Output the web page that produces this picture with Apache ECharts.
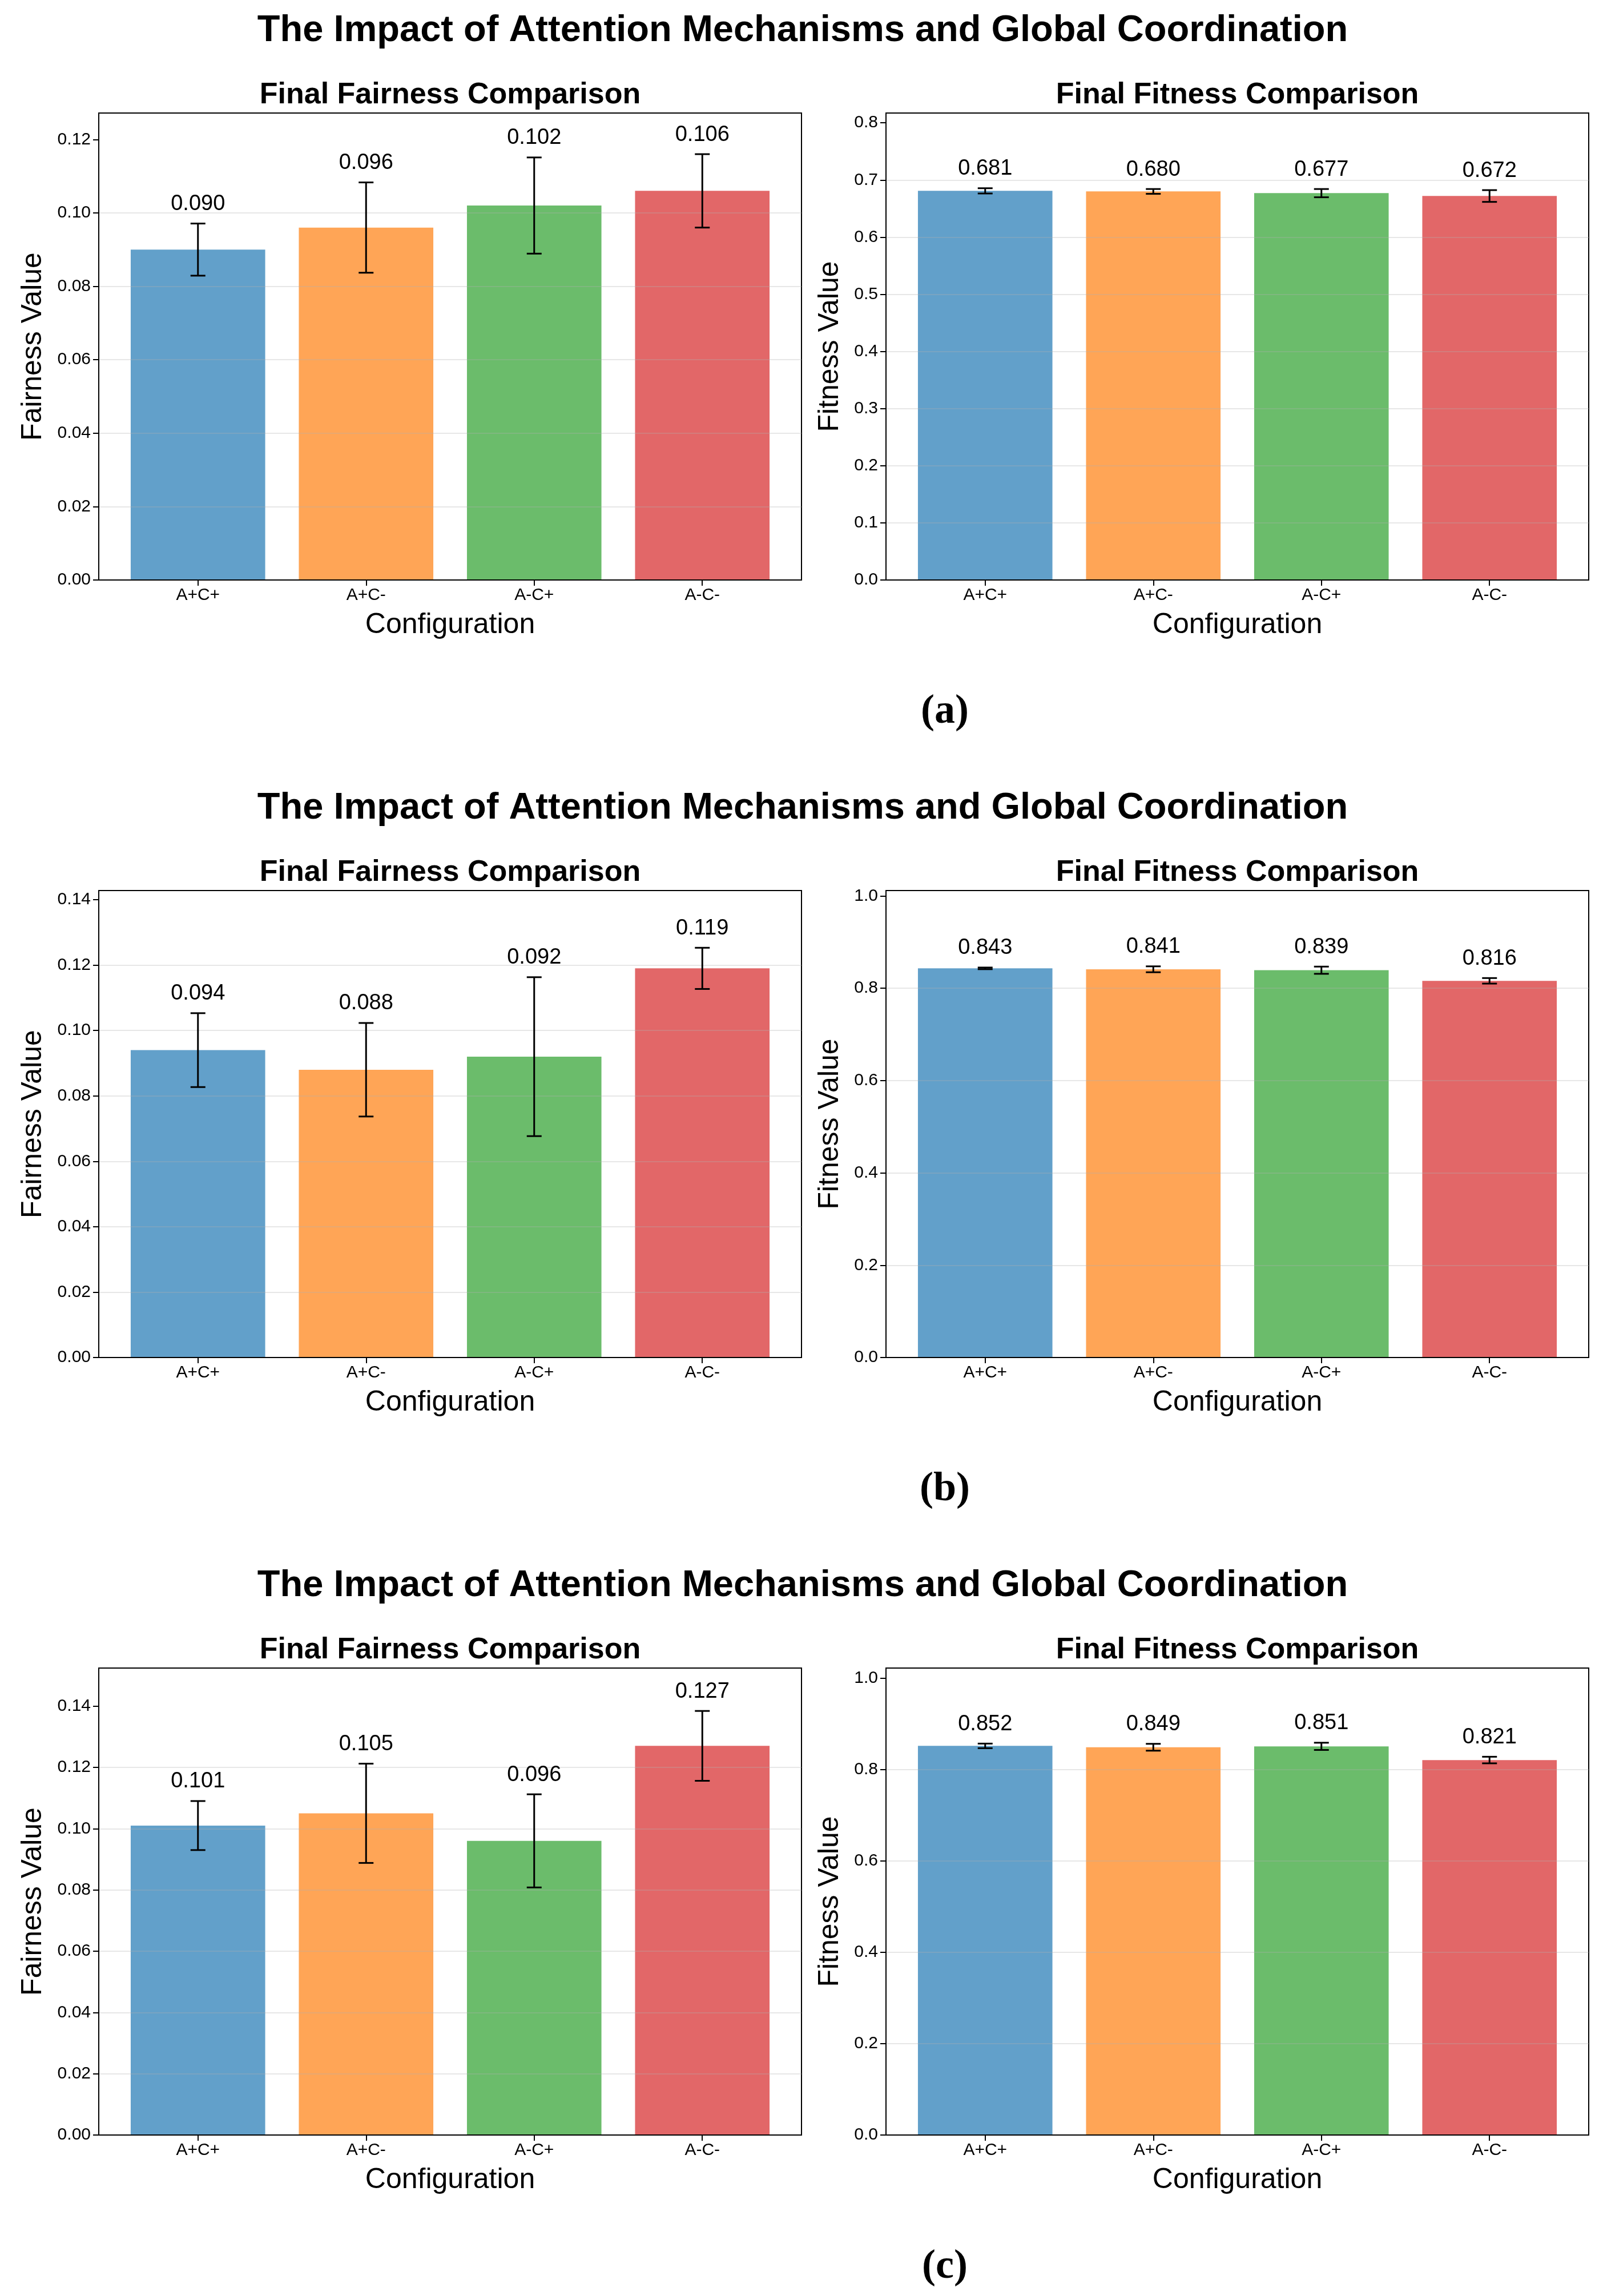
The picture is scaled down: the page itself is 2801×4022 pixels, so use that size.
<!DOCTYPE html>
<html>
<head>
<meta charset="utf-8">
<script src="https://cdn.jsdelivr.net/npm/echarts@6/dist/echarts.min.js"></script>
<style>
  html, body { margin: 0; padding: 0; background: #fff; }
  #chart { width: 2801px; height: 4022px; }
</style>
</head>
<body>
<div id="chart"></div>
<script>
// ---------------- data ----------------
const mainTitle = 'The Impact of Attention Mechanisms and Global Coordination';
const panelLabels = ['(a)', '(b)', '(c)'];
const categories = ['A+C+', 'A+C-', 'A-C+', 'A-C-'];
const leftTitle = 'Final Fairness Comparison';
const rightTitle = 'Final Fitness Comparison';
const leftYName = 'Fairness Value';
const rightYName = 'Fitness Value';
const xName = 'Configuration';

// panel (a)
const fairnessA = [0.090, 0.096, 0.102, 0.106];
const fairnessErrA = [0.0071, 0.0123, 0.0131, 0.0100];
const fitnessA = [0.681, 0.680, 0.677, 0.672];
const fitnessErrA = [0.0046, 0.0042, 0.0072, 0.0103];
// panel (b)
const fairnessB = [0.094, 0.088, 0.092, 0.119];
const fairnessErrB = [0.0113, 0.0143, 0.0243, 0.0063];
const fitnessB = [0.843, 0.841, 0.839, 0.816];
const fitnessErrB = [0.0018, 0.0064, 0.0078, 0.0060];
// panel (c)
const fairnessC = [0.101, 0.105, 0.096, 0.127];
const fairnessErrC = [0.0080, 0.0162, 0.0152, 0.0114];
const fitnessC = [0.852, 0.849, 0.851, 0.821];
const fitnessErrC = [0.0050, 0.0075, 0.0079, 0.0072];

// axis upper limits and tick labels
const fairnessMaxA = 0.1272, fitnessMaxA = 0.8172;
const fairnessMaxB = 0.1428, fitnessMaxB = 1.0116;
const fairnessMaxC = 0.1524, fitnessMaxC = 1.0224;
const fairnessTicksA = ['0.00', '0.02', '0.04', '0.06', '0.08', '0.10', '0.12'];
const fitnessTicksA = ['0.0', '0.1', '0.2', '0.3', '0.4', '0.5', '0.6', '0.7', '0.8'];
const fairnessTicksB = ['0.00', '0.02', '0.04', '0.06', '0.08', '0.10', '0.12', '0.14'];
const fitnessTicksB = ['0.0', '0.2', '0.4', '0.6', '0.8', '1.0'];
const fairnessTicksC = ['0.00', '0.02', '0.04', '0.06', '0.08', '0.10', '0.12', '0.14'];
const fitnessTicksC = ['0.0', '0.2', '0.4', '0.6', '0.8', '1.0'];

const barColors = ['#1f77b4', '#ff7f0e', '#2ca02c', '#d62728'];

// ---------------- layout / style ----------------
const SANS = 'Liberation Sans, Arial, Helvetica, sans-serif';
const SERIF = 'Liberation Serif, Times New Roman, serif';
const panelTops = [198, 1560, 2922];
const plotH = 818, plotW = 1231;
const leftX = 173, rightX = 1552;
const xMin = -0.59, xMax = 3.59;

const panels = [
  { left: [fairnessA, fairnessErrA, fairnessMaxA, fairnessTicksA],
    right: [fitnessA, fitnessErrA, fitnessMaxA, fitnessTicksA] },
  { left: [fairnessB, fairnessErrB, fairnessMaxB, fairnessTicksB],
    right: [fitnessB, fitnessErrB, fitnessMaxB, fitnessTicksB] },
  { left: [fairnessC, fairnessErrC, fairnessMaxC, fairnessTicksC],
    right: [fitnessC, fitnessErrC, fitnessMaxC, fitnessTicksC] }
];

const grids = [], xAxes = [], yAxes = [], series = [], graphics = [];
const blackLine = { color: '#000', width: 2 };

panels.forEach((panel, p) => {
  const top = panelTops[p];
  graphics.push({
    type: 'text', x: 1406, y: top - 144, z: 10,
    style: { text: mainTitle, fontSize: 65, fontWeight: 'bold', fontFamily: SANS,
             fill: '#000', align: 'center', verticalAlign: 'middle' }
  });
  graphics.push({
    type: 'text', x: 1655, y: top + 1049, z: 10,
    style: { text: panelLabels[p], fontSize: 72, fontWeight: 'bold', fontFamily: SERIF,
             fill: '#000', align: 'center', verticalAlign: 'middle' }
  });
  [['left', leftX, leftTitle, leftYName, 90], ['right', rightX, rightTitle, rightYName, 73]].forEach(([side, gx, ttl, yName, gap]) => {
    const [means, errs, ymax, tickStr] = panel[side];
    const idx = grids.length;
    const tickVals = tickStr.map(parseFloat);
    const dec = tickStr[1].split('.')[1].length;
    const step = tickVals[1] - tickVals[0];
    grids.push({ left: gx, top: top, width: plotW, height: plotH, show: true,
                 borderColor: '#000', borderWidth: 2, backgroundColor: 'rgba(0,0,0,0)' });
    graphics.push({
      type: 'text', x: gx + plotW / 2, y: top - 31, z: 10,
      style: { text: ttl, fontSize: 52, fontWeight: 'bold', fontFamily: SANS,
               fill: '#000', align: 'center', verticalAlign: 'middle' }
    });
    xAxes.push({
      gridIndex: idx, type: 'value', min: xMin, max: xMax, z: 5,
      splitLine: { show: false },
      axisLine: { show: true, onZero: false, lineStyle: blackLine },
      axisTick: { show: true, customValues: [0, 1, 2, 3], length: 10, lineStyle: blackLine },
      axisLabel: { show: true, customValues: [0, 1, 2, 3], margin: 12,
                   formatter: v => categories[Math.round(v)],
                   fontSize: 30, color: '#000', fontFamily: SANS },
      name: xName, nameLocation: 'middle', nameGap: 54,
      nameTextStyle: { fontSize: 50, color: '#000', fontFamily: SANS }
    });
    yAxes.push({
      gridIndex: idx, type: 'value', min: 0, max: ymax, interval: step, z: 3,
      axisLine: { show: true, onZero: false, lineStyle: blackLine },
      axisTick: { show: true, customValues: tickVals, length: 10, lineStyle: blackLine },
      axisLabel: { show: true, customValues: tickVals, margin: 14,
                   formatter: v => v.toFixed(dec),
                   fontSize: 30, color: '#000', fontFamily: SANS },
      splitLine: { show: true, showMinLine: false, showMaxLine: false,
                   lineStyle: { color: 'rgba(176,176,176,0.3)', width: 2 } },
      name: yName, nameLocation: 'middle', nameGap: gap,
      nameTextStyle: { fontSize: 50, color: '#000', fontFamily: SANS }
    });
    const data = means.map((m, k) => [k, m, errs[k]]);
    series.push({
      type: 'custom', xAxisIndex: idx, yAxisIndex: idx, z: 2,
      encode: { x: 0, y: 1 },
      data: data,
      renderItem: (params, api) => {
        const k = api.value(0), m = api.value(1);
        const a = api.coord([k - 0.4, m]);
        const b = api.coord([k + 0.4, 0]);
        return { type: 'rect', shape: { x: a[0], y: a[1], width: b[0] - a[0], height: b[1] - a[1] },
                 style: { fill: barColors[k], opacity: 0.7 } };
      }
    });
    series.push({
      type: 'custom', xAxisIndex: idx, yAxisIndex: idx, z: 6,
      encode: { x: 0, y: 1 },
      data: data,
      renderItem: (params, api) => {
        const k = api.value(0), m = api.value(1), e = api.value(2);
        const t = api.coord([k, m + e]);
        const bt = api.coord([k, m - e]);
        const cap = 13;
        const ls = { stroke: '#000', lineWidth: 3 };
        return { type: 'group', children: [
          { type: 'line', shape: { x1: t[0], y1: t[1], x2: bt[0], y2: bt[1] }, style: ls },
          { type: 'line', shape: { x1: t[0] - cap, y1: t[1], x2: t[0] + cap, y2: t[1] }, style: ls },
          { type: 'line', shape: { x1: bt[0] - cap, y1: bt[1], x2: bt[0] + cap, y2: bt[1] }, style: ls },
          { type: 'text', style: { text: m.toFixed(3), x: t[0], y: t[1] - 34, fontSize: 38,
              fontFamily: SANS, fill: '#000', align: 'center', verticalAlign: 'middle' } }
        ]};
      }
    });
  });
});

const chart = echarts.init(document.getElementById('chart'), null, { renderer: 'canvas' });
chart.setOption({
  backgroundColor: '#fff',
  animation: false,
  grid: grids,
  xAxis: xAxes,
  yAxis: yAxes,
  series: series,
  graphic: graphics
});
</script>
</body>
</html>
